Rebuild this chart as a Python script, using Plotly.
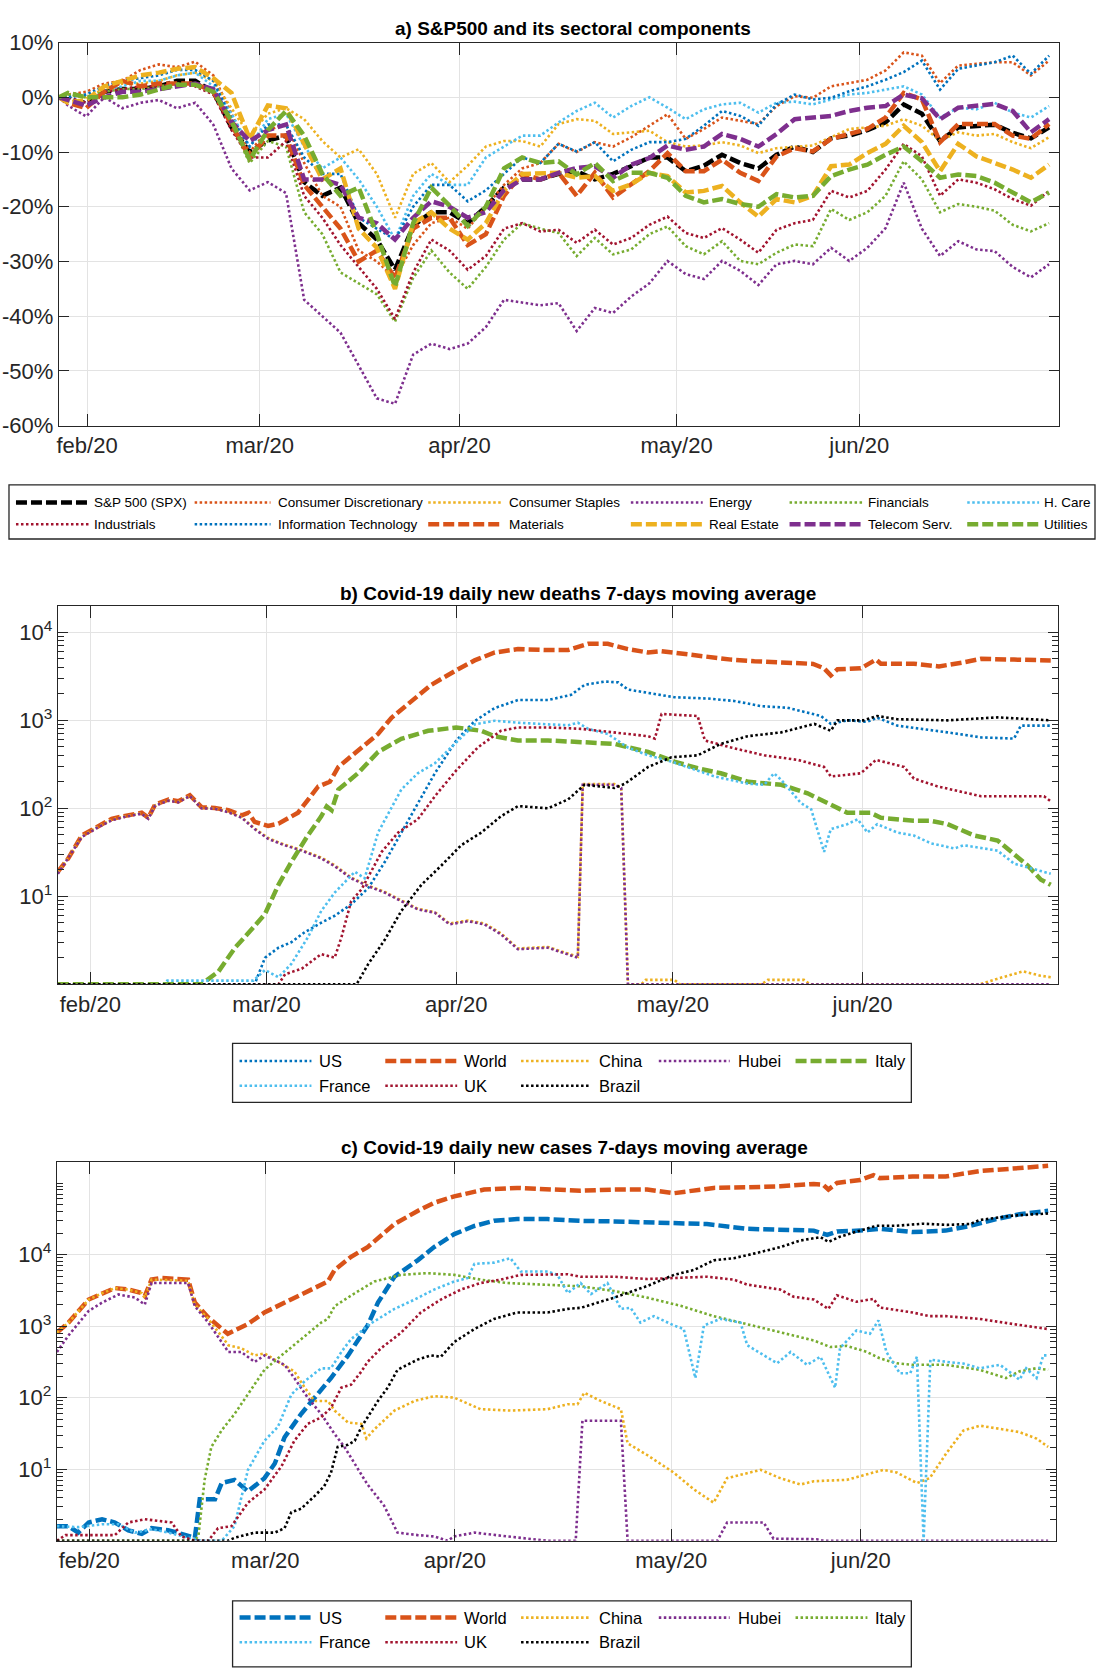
import plotly.graph_objects as go

W, H = 1097, 1670
FONT = "Liberation Sans, Arial, Helvetica, sans-serif"
INK = "#262626"
GRID = "#e3e3e3"

BLUE, ORANGE, YELLOW, PURPLE = "#0072BD", "#D95319", "#EDB120", "#7E2F8E"
GREEN, LBLUE, RED, BLACK = "#77AC30", "#4DBEEE", "#A2142F", "#000000"

DOT = "2.5px,2.5px"
DASH = "11px,4px"

month_labels = ["feb/20", "mar/20", "apr/20", "may/20", "jun/20"]
sector_month_pos = [3.1, 22.1, 44.1, 68.0, 88.1]
covid_month_pos = [5.3, 34.15, 65.2, 100.65, 131.7]

pct_tickvals = [-60, -50, -40, -30, -20, -10, 0, 10]
pct_ticktext = ["-60%", "-50%", "-40%", "-30%", "-20%", "-10%", "0%", "10%"]
log_tickvals = [10, 100, 1000, 10000]
log_ticktext = ["10<sup>1</sup>", "10<sup>2</sup>", "10<sup>3</sup>", "10<sup>4</sup>"]

# ---------------- a) cumulative returns (%), trading-day index ----------------
trade_idx = [0] + list(range(1, 110, 2))

spx = [0,
       -0.5, -1, 1, 1.5, 1.5, 2, 3, 3, 1, -5.5,
       -10, -7.9, -7, -15.5, -18, -16.5, -23, -26, -31.5, -23.5,
       -21, -21, -23, -20, -16.5, -15, -15, -14, -13.5, -15,
       -14, -12.6, -11, -11, -13.5, -12.5, -10.5, -12, -13, -10.5,
       -9, -10, -7.5, -7, -6, -4.6, -1.3, -3, -8, -5.5,
       -5.2, -5, -6.5, -7.5, -5.5]
cons_discr = [0,
              0.5, 1, 2.5, 3, 5, 6, 5.5, 6.5, 4, -3,
              -10, -6, -5, -12, -18, -20, -28, -30, -33, -27,
              -23, -22, -24, -20, -16, -13, -12, -8.5, -10, -8.2,
              -9, -7.3, -5.2, -3.1, -7.6, -5.8, -3.7, -4.3, -4.9, -1.6,
              0.2, -0.1, 2, 2.6, 3.2, 4.9, 8.2, 7.6, 2.6, 5.8,
              6.1, 6.4, 6.4, 4, 6.7]
cons_staples = [0,
                0.5, 0, 1.5, 2.5, 2.5, 3, 4, 4.5, 3, -2,
                -7, -3, -2, -4, -8, -11, -9.5, -14, -22, -14,
                -12, -15.5, -12.5, -9, -8, -8, -9, -4.9, -4, -4.3,
                -6.7, -6.4, -6.1, -8.2, -9, -8.8, -8.2, -8.8, -10.2, -9.3,
                -9, -8.8, -7.3, -5.8, -5.5, -5.2, -4, -5.2, -7.9, -6.4,
                -7, -6.7, -8.2, -9.3, -7.3]
energy = [0,
          -1.5, -3.5, 0, -2, -1, -0.5, -2, -1, -5, -13,
          -17, -15.5, -17.5, -37, -40, -43, -49, -55, -56, -47,
          -45, -46, -45, -42, -37, -37.5, -38, -37.6, -42.7, -38.5,
          -39.4, -36.4, -34, -29.9, -32.3, -33.2, -29.9, -31.7, -34.3, -30.5,
          -29.9, -30.5, -27.5, -29.9, -27.5, -23.9, -15.6, -24, -29, -26.3,
          -27.8, -28.1, -31, -32.9, -30.5]
financials = [0,
              0.5, 0, 1, 1.5, 1.5, 2, 2.5, 2.5, 1, -5,
              -12, -8, -9, -21, -25, -32, -34, -36, -41, -33,
              -28, -32, -35, -31, -26, -23, -24, -24.8, -29, -25.7,
              -28.7, -27.8, -25, -23.6, -27.2, -28.7, -26.3, -29.9, -30.5, -28.4,
              -26.9, -27.2, -20.4, -22.4, -21, -18, -11.7, -15, -21, -19.5,
              -20, -20.7, -23.3, -24.5, -23]
health_care = [0,
               0, -1, 1, 2, 3, 3, 4, 4.5, 2, -3,
               -9, -4, -3, -9, -13, -11, -15, -20, -26, -18,
               -14, -16, -16, -11, -9, -7, -7, -4.6, -2.5, -1,
               -3.7, -1.6, 0, -1.9, -4, -2.2, -1.3, -1, -2.8, -1,
               -0.8, -1.3, -0.4, 0.5, 0.8, 1.4, 2, 0.5, -3.7, -1.9,
               -2.2, -1, -2.8, -3.7, -1.6]
industrials = [0,
               0, -1, 1, 1.5, 2, 2, 2.5, 2, 0.5, -6,
               -11, -11, -8, -18, -22, -27, -31, -35, -40.5, -32,
               -26, -28, -31.5, -29, -24, -23, -24.5, -24.2, -26.6, -24.2,
               -26.9, -25.7, -23.3, -21.8, -24.8, -25.7, -23.9, -26, -28.4, -24.2,
               -23, -22.4, -17.1, -18.3, -17.1, -13.2, -8.5, -10.8, -18, -15,
               -15.6, -16.8, -18.6, -19.8, -17.1]
info_tech = [0,
             0, 0.5, 2, 3, 3.5, 4, 5, 5, 3, -4,
             -9, -5, -5, -11, -14, -14, -22, -24, -26, -20,
             -16, -16, -19, -17, -14, -11, -12, -8.5, -9.9, -8.2,
             -11.7, -9.6, -8.2, -8.2, -7.6, -5.2, -2.5, -3.4, -5.2, -1.3,
             0.5, -0.4, -0.1, 1.1, 2, 3.2, 4.6, 6.7, 1.4, 5.2,
             5.8, 6.4, 7.6, 4.3, 7.6]
materials = [0,
             -1, -2, 1, 3, 2, 2.5, 2.5, 2.5, 1, -5,
             -11, -7, -7, -16, -20, -24, -30, -28, -33, -24,
             -22, -22, -27, -25, -18, -14, -15, -13.8, -18, -13.8,
             -18.3, -15.9, -13.5, -10.2, -13.5, -13.5, -11.4, -13.8, -15.3, -10.8,
             -9.3, -9.9, -7.6, -6.7, -5.8, -3.7, 0.8, -0.4, -8.2, -4.9,
             -4.9, -4.9, -7, -7.6, -4.9]
real_estate = [0,
               -1, -0.5, 2, 3, 4, 4.5, 5.2, 5.5, 3.5, 0.8,
               -7.6, -1.5, -2, -8.5, -15, -13, -24, -27.5, -35, -23,
               -21, -24, -26, -23, -17, -14, -14, -13.8, -14.7, -14.4,
               -17.1, -15.9, -13.8, -14.4, -17.4, -17.1, -16.2, -19.2, -21.8, -18.6,
               -19.2, -18, -12.6, -12.3, -10.2, -8.5, -5.2, -8.2, -13.5, -8.5,
               -10.8, -12, -13.2, -14.7, -12.3]
telecom = [0,
           -0.5, -1.5, 0, 1, 1, 1.5, 2, 2.5, 1.5, -4.5,
           -8, -6, -5, -15, -15, -16, -22, -23, -26, -22,
           -19, -20, -22, -21, -17, -15, -15, -13.8, -12.9, -12.6,
           -14.7, -12.3, -11.1, -8.8, -9.6, -9, -6.7, -7.6, -9, -6.7,
           -4, -3.7, -3.4, -2.5, -1.9, -1.6, 0.5, -0.2, -4, -1.9,
           -1.5, -1.2, -2.5, -6.4, -4]
utilities = [0,
             0.8, 0, 0, 0, 0.5, 1.5, 2.3, 2.3, 1, -4.3,
             -11.4, -6, -2.5, -7, -14, -18, -16.5, -25, -34.6, -23,
             -16.5, -19.8, -23.5, -20, -13, -11, -12, -11.7, -14.1, -12,
             -15.3, -13.8, -13.8, -14.7, -18, -19.2, -18.6, -19.5, -20, -17.7,
             -18.3, -18, -14.4, -13.2, -12.3, -10.5, -9, -11.7, -14.7, -14.1,
             -14.4, -15.6, -17.4, -19.2, -17.4]

# ---------------- b) daily new deaths, 7-day MA: (day, value) ----------------
us_deaths = [(0, 1), (32.2, 1), (33.9, 2.0), (36.1, 2.6), (38.2, 3.0), (40.4, 3.9), (43.1, 5.0), (45.3, 6.0),
             (48, 8.1), (50.8, 12.4), (53.5, 24.5), (56.2, 53), (58.9, 115), (61.7, 250), (65.2, 590),
             (68.2, 980), (71.5, 1380), (75.3, 1700), (80.2, 1700), (84.0, 1950), (86.2, 2530), (89.5, 2760),
             (91.7, 2700), (93.3, 2240), (96.6, 2050), (100.9, 1830), (106.4, 1770), (110.7, 1660),
             (115.1, 1450), (119.4, 1390), (124.9, 1120), (126.5, 910), (129.2, 1000), (132.4, 960),
             (134.1, 1070), (137.4, 870), (145.6, 730), (151.1, 640), (156.5, 620), (157.6, 870), (162.5, 870)]
world_deaths = [(0, 19), (1.7, 27), (3.9, 49), (6.6, 63), (8.8, 76), (11, 82), (13.7, 89), (14.8, 78),
                (15.9, 110), (18.1, 126), (19.7, 120), (21.6, 141), (23.5, 103), (25.7, 101), (27.9, 95),
                (30.1, 83), (31.2, 89), (32.2, 70), (34.4, 63), (36.1, 67), (39.3, 89), (42.6, 177),
                (44.5, 200), (45.9, 295), (49.1, 455), (52.4, 700), (54.6, 1070), (57.8, 1650), (61.1, 2530),
                (65.2, 3710), (68.2, 4800), (71.5, 5900), (75.3, 6450), (80.2, 6300), (83.5, 6300),
                (86.8, 7400), (90, 7400), (93.3, 6450), (96.6, 5900), (98.8, 6100), (102, 5700),
                (106.4, 5300), (110.2, 4900), (114, 4700), (118.4, 4570), (123.6, 4380), (125.4, 3900),
                (126.5, 3240), (127.6, 3800), (131.4, 3900), (133.9, 4900), (134.7, 4400), (140.1, 4400),
                (144.2, 4100), (148.3, 4570), (151.1, 5000), (156.5, 4900), (162.5, 4800)]
china_deaths = [(0, 18.5), (1.7, 27.5), (3.9, 48), (6.6, 62), (8.8, 74), (11, 81), (13.7, 88), (14.8, 77),
                (15.9, 108), (18.1, 123), (19.7, 118), (21.6, 139), (23.5, 101), (25.7, 100), (27.9, 91),
                (30.1, 79), (32.2, 59), (34.4, 46), (37.1, 38.5), (39.9, 33.5), (43.1, 27.5), (45.3, 22.5),
                (48, 16.3), (50.8, 13.2), (53.5, 11.2), (56.2, 9), (58.9, 7.2), (61.7, 6.6), (64.1, 4.9),
                (67.1, 5.3), (69.8, 4.9), (72.5, 3.8), (75.3, 2.55), (80.2, 2.65), (82.4, 2.35), (85.1, 2.05),
                (85.9, 188), (91.1, 188), (92.2, 172), (93.3, 1), (95.5, 1), (96.2, 1.12), (100.9, 1.12),
                (101.8, 1), (115.2, 1), (116.2, 1.12), (122.1, 1.12), (123.1, 1), (151, 1), (153.7, 1.15),
                (158, 1.4), (160.8, 1.25), (162.5, 1.2)]
hubei_deaths = [(0, 18), (1.7, 27), (3.9, 47), (6.6, 61), (8.8, 73), (11, 80), (13.7, 87), (14.8, 76),
                (15.9, 107), (18.1, 122), (19.7, 117), (21.6, 138), (23.5, 100), (25.7, 99), (27.9, 90),
                (30.1, 78), (32.2, 58), (34.4, 45), (37.1, 38), (39.9, 33), (43.1, 27), (45.3, 22), (48, 16),
                (50.8, 13), (53.5, 11), (56.2, 8.8), (58.9, 7.1), (61.7, 6.5), (64.1, 4.8), (67.1, 5.2),
                (69.8, 4.8), (72.5, 3.7), (75.3, 2.5), (80.2, 2.6), (82.4, 2.3), (85.1, 2.0), (85.9, 185),
                (91.1, 185), (92.2, 170), (93.3, 1), (162.5, 1)]
italy_deaths = [(0, 1), (23.5, 1), (26.3, 1.4), (29, 2.6), (32.2, 4.6), (33.9, 6.3), (36.1, 13.5), (38.2, 24.5),
                (40.9, 49), (43.1, 81), (44, 105), (44.8, 95), (45.9, 163), (49.1, 250), (52.4, 437),
                (56.2, 615), (60.6, 760), (65.2, 830), (69.3, 760), (71.5, 660), (75.3, 590), (80.2, 590),
                (85.7, 565), (91.1, 540), (96.6, 437), (100.9, 340), (104.7, 285), (108.5, 250), (113, 200),
                (118.4, 185), (122.7, 148), (126.5, 110), (129.2, 89), (133, 89), (134.7, 78), (140.1, 72),
                (142.9, 72), (145.6, 66), (150, 49), (153.8, 43), (156, 32), (158.7, 22.5), (160.9, 15.4),
                (162.5, 13.5)]
france_deaths = [(0, 1), (17.4, 1), (17.9, 1.1), (32, 1.1), (33.9, 1.45), (36.1, 1.2), (38.2, 1.7),
                 (40.9, 3.4), (43.1, 6.8), (45.3, 11), (48.6, 19), (50.2, 16), (51.3, 29), (52.4, 53),
                 (56.2, 163), (58.9, 250), (61.7, 325), (65.5, 590), (68.2, 900), (71.5, 990), (75.3, 940),
                 (80.2, 900), (83.5, 880), (85.1, 940), (86.8, 800), (90, 700), (93.3, 490), (96.6, 400),
                 (100.4, 340), (103.6, 285), (107.5, 230), (113, 190), (115.6, 185), (117.2, 250),
                 (118.4, 210), (121.6, 115), (123.3, 97), (125.4, 32), (126.5, 58), (129.2, 66), (130.9, 75),
                 (132.5, 53), (134.1, 66), (137.4, 53), (140.1, 49), (142.9, 40), (146.7, 35), (148.3, 38),
                 (153.8, 33), (156.5, 23.5), (159.2, 21), (162.5, 18)]
uk_deaths = [(0, 1), (36.1, 1), (37.2, 1.3), (39.9, 1.5), (43.1, 2.2), (45.3, 2.0), (46.4, 3.4), (48, 8.8),
             (49.7, 12), (51.3, 19), (53, 32), (55.7, 53), (58.9, 75), (61.7, 137), (65.2, 270), (68.7, 490),
             (72.5, 760), (75.3, 830), (80.2, 830), (85.7, 800), (91.1, 730), (96.6, 660), (97.7, 620),
             (98.8, 1180), (104.7, 1120), (105.9, 590), (110.2, 490), (115.6, 400), (121.1, 355),
             (125.4, 295), (126.5, 230), (131.4, 250), (133.9, 355), (138.5, 295), (140.1, 218),
             (143.9, 178), (151.1, 137), (161.4, 137), (162.5, 120)]
brazil_deaths = [(0, 1), (48.9, 1), (50.8, 1.7), (53.5, 3.2), (56.2, 6.8), (59.5, 13.5), (62.8, 22.5),
                 (66, 38), (69.3, 53), (72.5, 81), (75.3, 106), (80.2, 100), (83.5, 126), (86.2, 185),
                 (91.1, 170), (92.8, 190), (96.6, 295), (100.4, 380), (104.7, 400), (108.5, 540),
                 (112.9, 660), (118.4, 730), (123.8, 910), (126.5, 760), (127.6, 1000), (131.9, 1000),
                 (134.1, 1120), (137.4, 1030), (145.6, 1000), (153.8, 1080), (162.5, 1000)]

# ---------------- c) daily new cases, 7-day MA: (day, value) ----------------
us_cases = [(0, 1.6), (1.9, 1.6), (3.5, 1.3), (5.2, 1.8), (7.4, 2.0), (9.5, 1.8), (11.7, 1.4), (13.9, 1.25),
            (15.5, 1.5), (18.2, 1.4), (20.4, 1.25), (22.6, 1.1), (23.4, 3.8), (25.9, 3.8), (27, 6.4),
            (29.1, 7.1), (31.3, 4.9), (34, 7.5), (35.7, 12), (37.3, 28), (40, 59), (42.2, 100),
            (44.9, 188), (47.7, 390), (50.9, 1020), (52.6, 2130), (55.3, 4900), (59.1, 8300),
            (61.8, 12700), (65.1, 19300), (68.4, 25100), (71.6, 29600), (75.4, 31300), (80.4, 31300),
            (85.8, 29600), (91.3, 29000), (96.7, 28500), (102.2, 27600), (106.5, 26700), (113.1, 22900),
            (118.5, 22300), (124, 21600), (126.2, 18800), (127.8, 21000), (131.6, 21600), (134.8, 22900),
            (140.2, 20600), (145.6, 21600), (149.6, 25100), (153.9, 31300), (157.7, 36500), (162.4, 41000)]
world_cases = [(0, 810), (1.9, 1120), (5.2, 2350), (7.4, 2880), (9.5, 3400), (11.7, 3240), (13.9, 2900),
               (14.4, 2630), (15.5, 4460), (17.2, 4700), (21.5, 4460), (22.6, 2130), (24.8, 1320),
               (28, 780), (31.3, 1070), (34, 1550), (37.3, 2130), (41.1, 3090), (44.4, 4200), (45.5, 6100),
               (48.2, 9300), (50.9, 12700), (55.3, 26700), (59.1, 40600), (61.8, 52900), (65.1, 65000),
               (70, 81000), (75.4, 85400), (80.4, 81000), (85.8, 78000), (91.3, 81000), (96.7, 81000),
               (101.1, 72000), (104.9, 81000), (107.6, 85400), (113.1, 87000), (118.5, 90000),
               (124, 97000), (125.5, 95000), (126.4, 81000), (127.8, 100000), (131.6, 110000),
               (133.8, 129000), (134.8, 117000), (140.2, 123000), (145.6, 123000), (147.9, 132000),
               (151.2, 147000), (156.6, 159000), (162.4, 174000)]
china_cases = [(0, 810), (1.9, 1120), (5.2, 2350), (7.4, 2880), (9.5, 3400), (11.7, 3240), (13.9, 2900),
               (14.4, 2500), (15.5, 4460), (17.2, 4400), (21.5, 4300), (22.6, 2000), (24.8, 1260),
               (28.1, 540), (30.2, 490), (32.4, 390), (34, 415), (36.2, 320), (38.9, 233), (40.6, 138),
               (42.2, 90), (44.4, 90), (45.5, 66), (47.7, 45), (49.9, 43), (50.7, 27), (52, 36), (55.3, 66),
               (58.6, 90), (61.8, 105), (65.1, 100), (69.4, 69), (74.3, 66), (80.4, 69), (83.7, 81),
               (85.3, 81), (86.4, 117), (89.1, 90), (92.4, 69), (93.5, 23), (96.7, 15.8), (101.1, 8.9),
               (104.4, 5.2), (107.6, 3.4), (109.8, 7.5), (115.3, 9.8), (118.5, 7.5), (121.8, 6.1),
               (124, 6.8), (129.4, 7.1), (132.7, 8.5), (135.4, 9.8), (137.6, 9), (140.9, 6.4), (143, 7.5),
               (145.7, 16.6), (148.5, 34.6), (151.2, 40.6), (154.5, 36.6), (157.7, 33), (160.5, 26.8),
               (162.4, 20.5)]
hubei_cases = [(0, 435), (1.9, 740), (5.2, 1630), (7.4, 2130), (10.1, 2770), (12.8, 2500), (14.4, 2000),
               (15.5, 4000), (21.5, 4000), (22.6, 1900), (24.8, 1120), (28.1, 435), (30.2, 435), (32.4, 316),
               (34, 390), (37.3, 288), (38.9, 188), (41.1, 100), (43.3, 59), (45.5, 31), (47.1, 20.5),
               (48.8, 12), (50.9, 6.1), (53.6, 3.1), (55.8, 1.3), (59.1, 1.2), (61.8, 1.15), (64, 1),
               (65.1, 1.15), (68.4, 1.3), (70.5, 1.25), (73.8, 1.15), (80.4, 1), (85, 1), (86.1, 47.6),
               (92.4, 47.6), (93.5, 1), (108.2, 1), (109.8, 1.8), (115.8, 1.8), (117.4, 1.07), (124.5, 1.05),
               (125.6, 1), (162.4, 1)]
italy_cases = [(0, 1), (22.6, 1), (23.2, 1.2), (24.2, 7.1), (25.3, 20.5), (27, 35), (29.1, 59), (31.3, 110),
               (34, 245), (36.8, 390), (40, 660), (43.3, 1120), (44.4, 1260), (45.5, 1900), (48.8, 2880),
               (52, 4200), (56.4, 5200), (60.7, 5500), (65.1, 5200), (69.4, 4460), (73.8, 4000), (80.4, 3800),
               (85.8, 3600), (91.3, 3090), (96.7, 2500), (102.2, 1920), (107.6, 1380), (112, 1120),
               (118.5, 820), (124, 630), (126.7, 510), (129.4, 530), (132.7, 435), (134.8, 355),
               (137.6, 302), (140.2, 288), (145.6, 288), (151.2, 245), (155.5, 188), (157.7, 233),
               (160.4, 257), (162.4, 245)]
france_cases = [(0, 1.6), (3.5, 1.55), (7.4, 1.7), (10.1, 1.7), (12.8, 1.3), (15.5, 1.45), (18.2, 1.3),
                (21.5, 1.1), (23.7, 1), (27, 1), (29.1, 1.6), (31.3, 9.8), (34, 25), (36.2, 39), (38.4, 110),
                (40.6, 170), (43.3, 257), (44.9, 257), (46.6, 435), (48.2, 660), (49.9, 850), (50.9, 1020),
                (52.6, 1260), (55.3, 1740), (58.6, 2350), (61.8, 3240), (65.1, 4200), (67.3, 4700),
                (68.4, 7400), (71.6, 7700), (74.3, 8900), (76, 5800), (80.4, 5800), (82, 5200), (83.7, 2900),
                (85.8, 4000), (87.5, 2800), (90.2, 4000), (92.4, 1740), (94, 1800), (95.6, 1120), (97.8, 1380),
                (101.1, 1020), (102.7, 910), (104.6, 188), (106, 1020), (108.7, 1260), (112, 1120),
                (113.1, 540), (115.8, 390), (118, 302), (120.2, 435), (122.9, 288), (125.1, 372),
                (127.5, 138), (128.3, 490), (131, 870), (133.2, 780), (134.6, 1200), (135.9, 435),
                (138.1, 219), (139.8, 219), (140.9, 372), (142, 1), (143.1, 340), (145.8, 316), (148.5, 300),
                (151.2, 257), (154.5, 288), (156.7, 209), (157.7, 178), (158.8, 257), (160.5, 188),
                (161.6, 390), (162.4, 390)]
uk_cases = [(0, 1), (1.4, 1.2), (9.5, 1.2), (11.7, 1.8), (14.4, 2.0), (16.6, 1.9), (18.8, 1.8), (20.4, 1.15),
            (22.6, 1), (24.8, 1), (26.4, 1.5), (28.6, 1.6), (31.3, 3.4), (34, 5.2), (36.8, 11), (38.9, 25),
            (41.1, 43), (43.3, 53), (44.9, 72), (46.6, 138), (48.2, 152), (49.9, 233), (50.9, 316),
            (53.1, 490), (56.4, 810), (59.6, 1550), (62.9, 2350), (66.2, 3240), (69.4, 4000), (72.7, 4460),
            (76, 5200), (83.7, 5300), (85.8, 4900), (91.3, 4900), (96.7, 4550), (101.1, 4700),
            (106.5, 4900), (110.9, 4460), (113.1, 3800), (118.5, 3240), (120.7, 2570), (124, 2350),
            (126.4, 1740), (127.8, 2690), (131, 2190), (133.8, 2400), (134.8, 1820), (140.2, 1550),
            (142.9, 1380), (145.6, 1380), (151.2, 1260), (156.6, 1070), (162.4, 910)]
brazil_cases = [(0, 1), (28, 1), (29.1, 1.1), (32.4, 1.3), (35.7, 1.3), (37.3, 1.5), (38.4, 2.5), (40, 2.8),
                (42.2, 4.2), (43.8, 5.8), (44.9, 8.9), (46, 20.5), (47.7, 22), (48.8, 25), (49.9, 39),
                (50.9, 53), (52.6, 90), (54.2, 138), (55.8, 245), (59.1, 340), (61.3, 390), (62.9, 372),
                (65.1, 600), (68.4, 910), (71.6, 1260), (75.4, 1550), (80.4, 1550), (83.7, 1740),
                (85.8, 1800), (91.3, 2500), (96.7, 3630), (101.1, 5200), (104.4, 6100), (107.6, 8300),
                (110.9, 8900), (114.2, 10300), (118.5, 12700), (121.8, 15700), (125.1, 17500),
                (126.4, 15000), (128.3, 17800), (131.6, 21600), (134.3, 25300), (137.6, 25300),
                (142, 27000), (145.8, 26000), (149.6, 26700), (151.2, 30400), (156.6, 35000),
                (162.4, 37500)]

THIN, THICK = 2.6, 4.5

# name, series, colour, dash pattern, width
sector_series = [
    ("S&P 500 (SPX)", spx, BLACK, DASH, THICK),
    ("Consumer Discretionary", cons_discr, ORANGE, DOT, THIN),
    ("Consumer Staples", cons_staples, YELLOW, DOT, THIN),
    ("Energy", energy, PURPLE, DOT, THIN),
    ("Financials", financials, GREEN, DOT, THIN),
    ("H. Care", health_care, LBLUE, DOT, THIN),
    ("Industrials", industrials, RED, DOT, THIN),
    ("Information Technology", info_tech, BLUE, DOT, THIN),
    ("Materials", materials, ORANGE, DASH, THICK),
    ("Real Estate", real_estate, YELLOW, DASH, THICK),
    ("Telecom Serv.", telecom, PURPLE, DASH, THICK),
    ("Utilities", utilities, GREEN, DASH, THICK),
]
deaths_series = [
    ("US", us_deaths, BLUE, DOT, THIN),
    ("World", world_deaths, ORANGE, DASH, THICK),
    ("China", china_deaths, YELLOW, DOT, THIN),
    ("Hubei", hubei_deaths, PURPLE, DOT, THIN),
    ("Italy", italy_deaths, GREEN, DASH, THICK),
    ("France", france_deaths, LBLUE, DOT, THIN),
    ("UK", uk_deaths, RED, DOT, THIN),
    ("Brazil", brazil_deaths, BLACK, DOT, THIN),
]
cases_series = [
    ("US", us_cases, BLUE, DASH, THICK),
    ("World", world_cases, ORANGE, DASH, THICK),
    ("China", china_cases, YELLOW, DOT, THIN),
    ("Hubei", hubei_cases, PURPLE, DOT, THIN),
    ("Italy", italy_cases, GREEN, DOT, THIN),
    ("France", france_cases, LBLUE, DOT, THIN),
    ("UK", uk_cases, RED, DOT, THIN),
    ("Brazil", brazil_cases, BLACK, DOT, THIN),
]

for _, vals, *_ in sector_series:
    assert len(vals) == len(trade_idx)


def px(x):
    return x / W


def py(y):
    return 1 - y / H


fig = go.Figure()

for name, vals, col, dash, wid in sector_series:
    fig.add_trace(go.Scatter(x=trade_idx, y=vals, name=name, mode="lines",
                             line=dict(color=col, dash=dash, width=wid),
                             xaxis="x", yaxis="y", showlegend=False))

for axes, group in (("2", deaths_series), ("3", cases_series)):
    for name, pts, col, dash, wid in group:
        fig.add_trace(go.Scatter(x=[p[0] for p in pts], y=[p[1] for p in pts], name=name,
                                 mode="lines", line=dict(color=col, dash=dash, width=wid),
                                 xaxis="x" + axes, yaxis="y" + axes, showlegend=False))

tick_font = dict(family=FONT, size=22, color=INK)


def x_axis(left, right, rng, ticks_at, anchor):
    return dict(domain=[px(left), px(right)], range=rng, anchor=anchor,
                tickmode="array", tickvals=ticks_at, ticktext=month_labels,
                ticks="inside", ticklen=12, tickwidth=1.3, tickcolor=INK,
                showline=True, linecolor=INK, linewidth=1.3, mirror="ticks",
                showgrid=True, gridcolor=GRID, gridwidth=1.3, zeroline=False,
                tickfont=tick_font, fixedrange=True)


def y_axis(top, bottom, anchor, **kw):
    d = dict(domain=[py(bottom), py(top)], anchor=anchor,
             ticks="inside", ticklen=10, tickwidth=1.3, tickcolor=INK,
             showline=True, linecolor=INK, linewidth=1.3, mirror="ticks",
             showgrid=True, gridcolor=GRID, gridwidth=1.3, zeroline=False,
             tickfont=tick_font, fixedrange=True)
    d.update(kw)
    return d


log_minor = dict(ticks="inside", ticklen=6, tickcolor=INK, tickwidth=1, dtick="D1", showgrid=False)

fig.update_layout(
    width=W, height=H, margin=dict(l=0, r=0, t=0, b=0),
    paper_bgcolor="white", plot_bgcolor="white", showlegend=False,
    xaxis=x_axis(57, 1059, [0, 110.1], sector_month_pos, "y"),
    yaxis=y_axis(31, 420, "x", range=[-60, 10], tickmode="array",
                 tickvals=pct_tickvals, ticktext=pct_ticktext),
    xaxis2=x_axis(56, 1058, [0, 163.7], covid_month_pos, "y2"),
    yaxis2=y_axis(603, 987, "x2", type="log", range=[0, 4.3], tickmode="array",
                  tickvals=log_tickvals, ticktext=log_ticktext, minor=log_minor),
    xaxis3=x_axis(55, 1056, [0, 163.7], covid_month_pos, "y3"),
    yaxis3=y_axis(1167, 1552, "x3", type="log", range=[0, 5.3], tickmode="array",
                  tickvals=log_tickvals, ticktext=log_ticktext, minor=log_minor),
)

titles = [
    ("a) S&P500 and its sectoral components", 572, 17),
    ("b) Covid-19 daily new deaths 7-days moving average", 577, 590),
    ("c) Covid-19 daily new cases 7-days moving average", 574, 1153),
]
for text, cx, cy in titles:
    fig.add_annotation(text=text, x=px(cx), y=py(cy), xref="paper", yref="paper",
                       xanchor="center", yanchor="middle", showarrow=False,
                       font=dict(family=FONT, size=19, color="black", weight="bold"))


# legend boxes: outline, row centres, column (sample start, sample end, text start)
def draw_legend(box, rows, cols, entries, font_size):
    x0, y0, x1, y1 = box
    fig.add_shape(type="rect", xref="paper", yref="paper", x0=px(x0), x1=px(x1), y0=py(y1), y1=py(y0),
                  line=dict(color=INK, width=1.3), fillcolor="white", layer="above")
    for k, (name, _, col, dash, wid) in enumerate(entries):
        r, c = divmod(k, len(cols))
        sx0, sx1, tx = cols[c]
        yy = rows[r]
        fig.add_shape(type="line", xref="paper", yref="paper", x0=px(sx0), x1=px(sx1),
                      y0=py(yy), y1=py(yy), line=dict(color=col, dash=dash, width=wid), layer="above")
        fig.add_annotation(text=name, x=px(tx), y=py(yy), xref="paper", yref="paper",
                           xanchor="left", yanchor="middle", showarrow=False,
                           font=dict(family=FONT, size=font_size, color="black"))


draw_legend((7, 480, 1095, 535), [498, 520],
            [(14, 87, 90), (193, 269, 274), (427, 502, 506), (630, 702, 706), (789, 862, 866), (967, 1039, 1042)],
            sector_series, 13.5)
covid_cols = [(238, 310, 316), (384, 456, 461), (520, 590, 596), (658, 729, 735), (795, 867, 873)]
draw_legend((231, 1047, 911, 1107), [1065, 1090], covid_cols, deaths_series, 16.5)
draw_legend((231, 1613, 911, 1680), [1630, 1655], covid_cols, cases_series, 16.5)

fig.write_html("out.html")
